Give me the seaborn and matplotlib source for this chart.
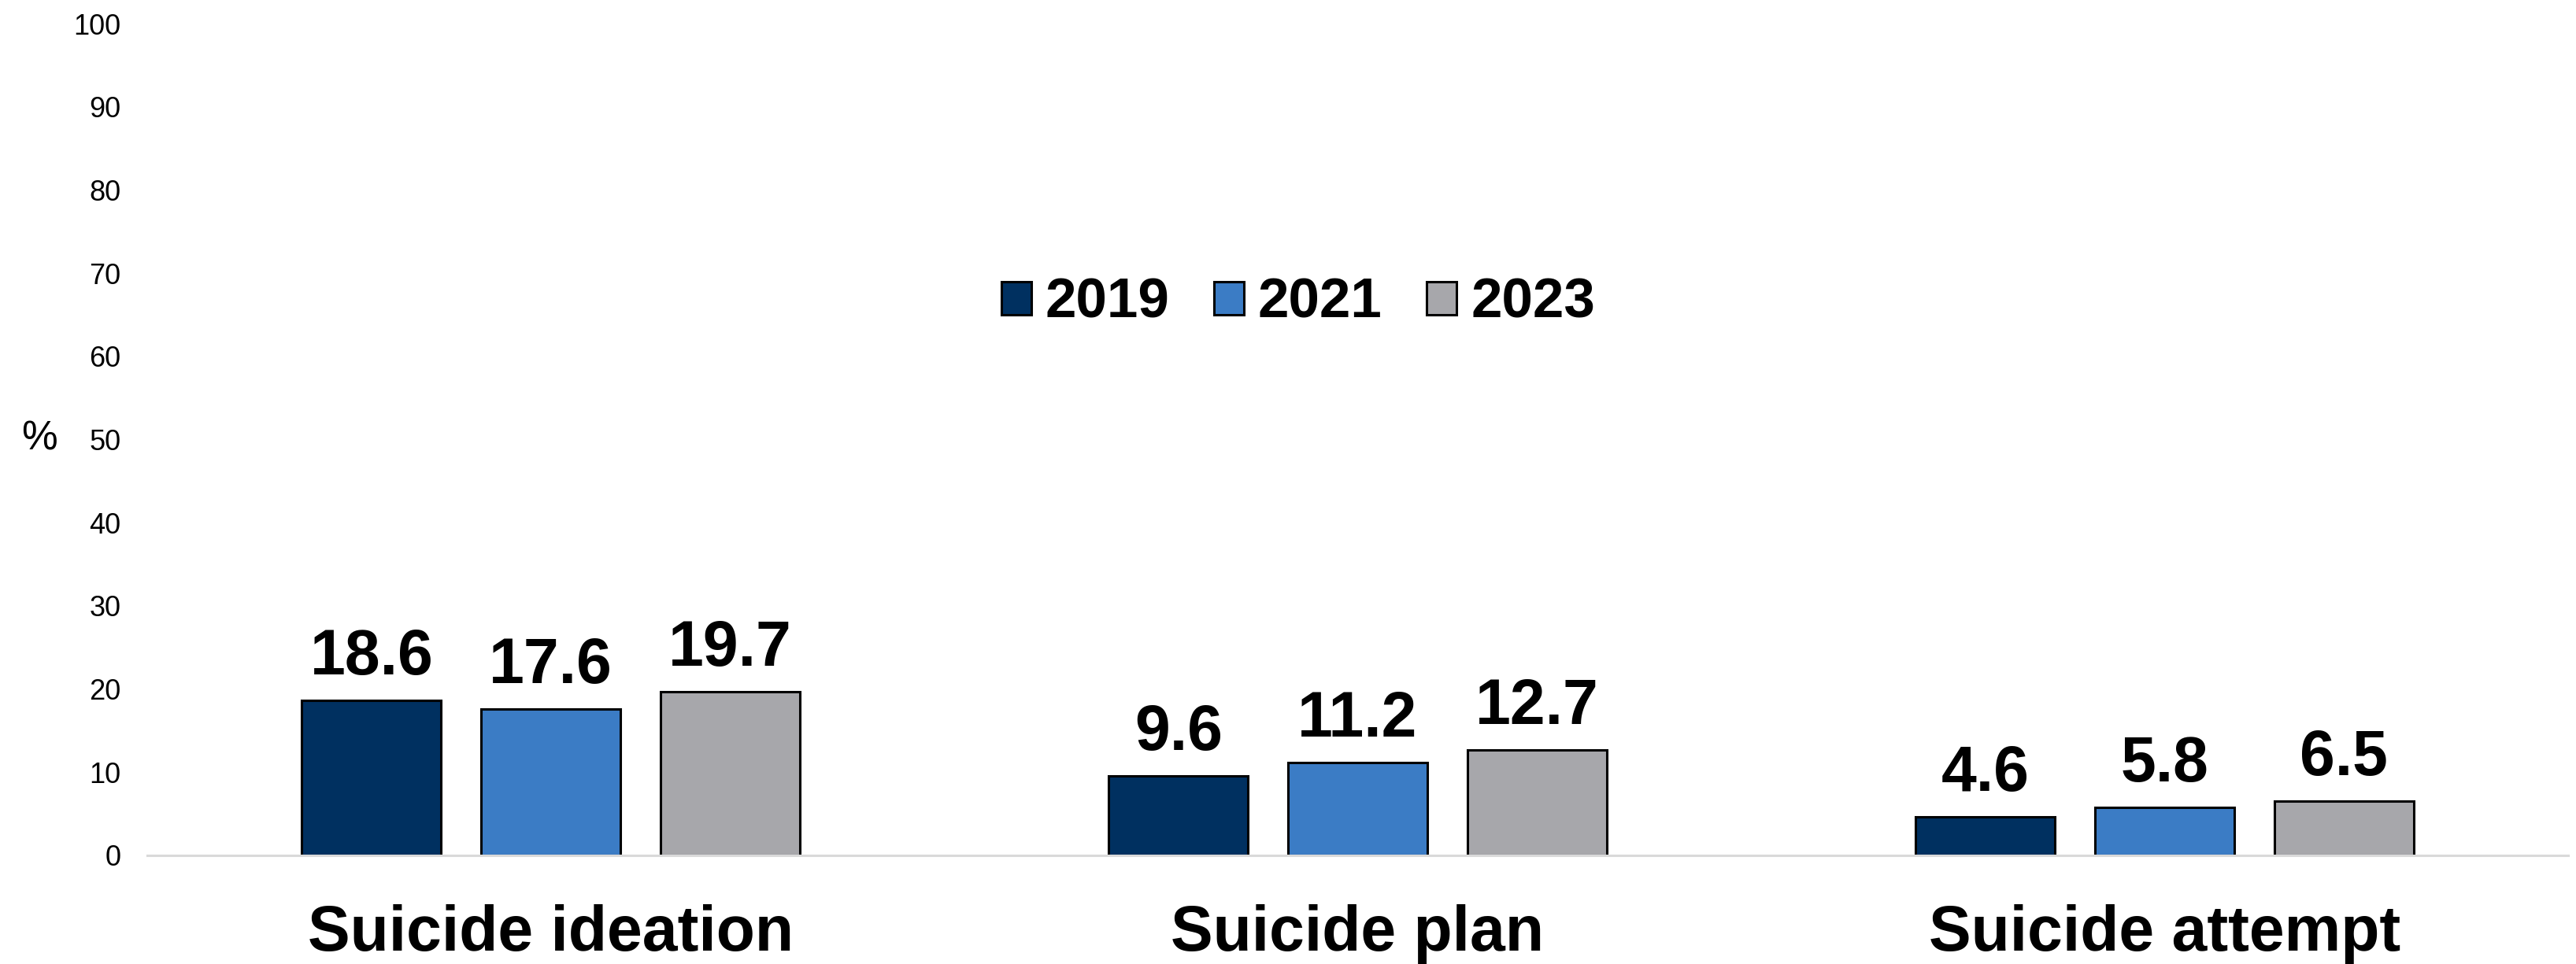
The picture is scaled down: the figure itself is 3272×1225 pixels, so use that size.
import matplotlib
matplotlib.use("Agg")
import matplotlib.pyplot as plt
from matplotlib.patches import Patch
import pandas as pd
import seaborn as sns

# Survey results (% of students), by behaviour and survey year
categories = ["Suicide ideation", "Suicide plan", "Suicide attempt"]
years = ["2019", "2021", "2023"]
values_2019 = [18.6, 9.6, 4.6]
values_2021 = [17.6, 11.2, 5.8]
values_2023 = [19.7, 12.7, 6.5]
y_ticks = [0, 10, 20, 30, 40, 50, 60, 70, 80, 90, 100]

colors = ["#003060", "#3B7CC5", "#A7A7AB"]

df = pd.DataFrame({
    "category": categories * 3,
    "year": [years[0]] * 3 + [years[1]] * 3 + [years[2]] * 3,
    "value": values_2019 + values_2021 + values_2023,
})

sns.set_style("white")
plt.rcParams["font.family"] = ["Liberation Sans", "DejaVu Sans"]
plt.rcParams["text.color"] = "black"
plt.rcParams["axes.labelcolor"] = "black"

W, H = 3272, 1225
fig = plt.figure(figsize=(W / 100, H / 100), dpi=100)
ax = fig.add_axes([187 / W, (H - 1087) / H, 3075 / W, 1057 / H])

sns.barplot(
    data=df, x="category", y="value", hue="year",
    order=categories, hue_order=years, palette=colors, saturation=1,
    width=0.666, gap=0.222, edgecolor="black", linewidth=2.2,
    legend=False, ax=ax, errorbar=None,
)

ax.set_xlim(-0.5, 2.5)
ax.set_ylim(0, 100)
ax.set_yticks(y_ticks)
ax.set_yticklabels([str(t) for t in y_ticks])
ax.set_xlabel("")
ax.set_ylabel("%", rotation=0, fontsize=37, labelpad=0, color="black")
ax.yaxis.label.set_ha("center")
ax.yaxis.label.set_va("center")
ax.yaxis.set_label_coords((50 - 187) / 3075, 0.5)

for side in ["top", "right", "left"]:
    ax.spines[side].set_visible(False)
ax.spines["bottom"].set_color("#D9D9D9")
ax.spines["bottom"].set_linewidth(2.2)

ax.tick_params(axis="y", length=0, pad=24, labelsize=26, labelcolor="black")
ax.tick_params(axis="x", length=0, pad=87, labelsize=58, labelcolor="black")
for lbl in ax.get_xticklabels():
    lbl.set_fontweight("bold")
    lbl.set_va("baseline")

# value labels above each bar
for container in ax.containers:
    ax.bar_label(container, fmt="{:.1f}", padding=11.5,
                 fontsize=58, fontweight="bold", color="black")

handles = [Patch(facecolor=c, edgecolor="black", linewidth=2.2, label=y)
           for c, y in zip(colors, years)]
fig.legend(
    handles=handles, loc="center", bbox_to_anchor=(1649 / W, 1 - 386 / H),
    ncol=3, frameon=False, prop={"weight": "bold", "size": 51},
    labelcolor="black",
    handlelength=0.535, handleheight=0.535, handletextpad=0.25,
    columnspacing=0.8, borderpad=0, borderaxespad=0,
)

fig.savefig("out.png", dpi=100, facecolor="white")
